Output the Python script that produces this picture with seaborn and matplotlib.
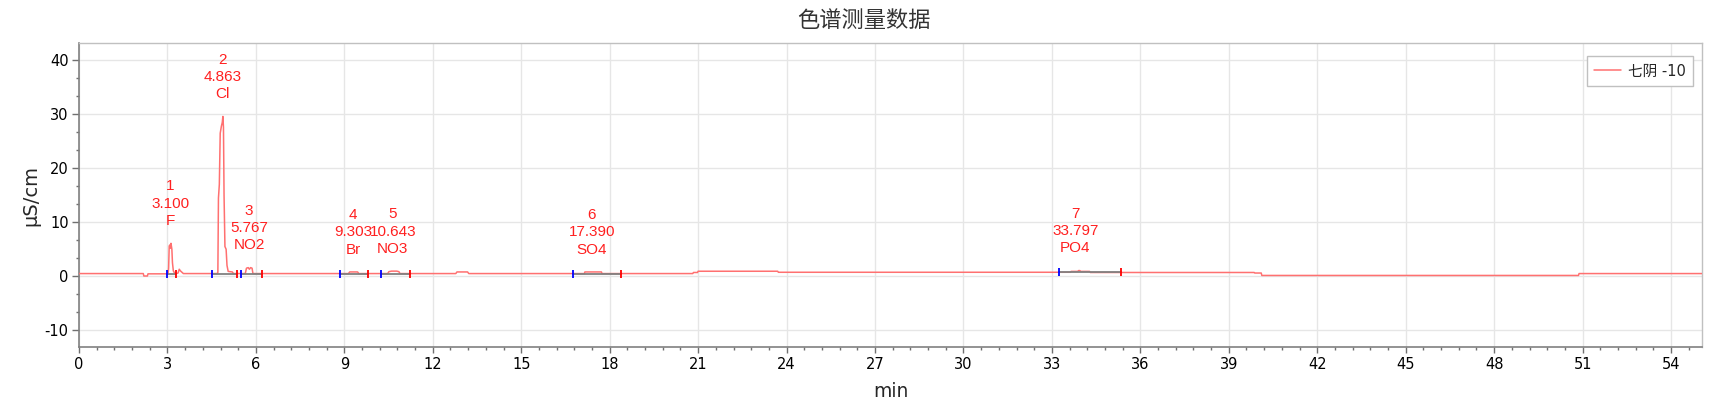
import numpy as np
import pandas as pd
import matplotlib
matplotlib.use("Agg")
import matplotlib.pyplot as plt
from matplotlib.ticker import MultipleLocator, AutoMinorLocator
import seaborn as sns

# ---------------- Chromatogram trace ----------------
time_min = [
    0.00, 2.18, 2.20, 2.32, 2.34,
    3.02, 3.04, 3.06, 3.08, 3.10, 3.12, 3.15, 3.17, 3.20, 3.24, 3.30,
    3.36, 3.40, 3.44, 3.48, 3.54,
    4.68, 4.71, 4.73, 4.76, 4.79, 4.83, 4.86, 4.88, 4.90, 4.92, 4.95,
    4.99, 5.02, 5.06, 5.20, 5.24,
    5.64, 5.68, 5.74, 5.78, 5.82, 5.87, 5.90,
    9.14, 9.18, 9.45, 9.49,
    10.47, 10.51, 10.60, 10.78, 10.85, 10.89,
    12.78, 12.82, 13.18, 13.22,
    17.14, 17.16, 17.72, 17.74,
    20.82, 20.84, 20.98, 21.00, 23.70, 23.72,
    33.63, 33.65, 33.88, 33.90, 33.95, 33.97, 34.28, 34.30,
    39.86, 39.88, 40.10, 40.12,
    50.86, 50.88, 55.05,
]
signal_us = [
    0.50, 0.50, 0.05, 0.05, 0.45,
    0.45, 1.50, 5.60, 5.80, 5.20, 6.10, 5.00, 2.50, 1.00, 0.60, 0.50,
    0.60, 1.30, 1.00, 0.80, 0.50,
    0.50, 0.70, 14.5, 17.0, 26.5, 27.8, 28.5, 29.6, 27.6, 15.0, 5.50,
    5.00, 2.00, 0.90, 0.80, 0.50,
    0.50, 1.50, 1.60, 1.30, 1.60, 1.50, 0.50,
    0.50, 0.80, 0.80, 0.50,
    0.50, 0.85, 0.95, 0.95, 0.85, 0.50,
    0.50, 0.80, 0.80, 0.50,
    0.50, 0.80, 0.80, 0.50,
    0.50, 0.70, 0.70, 0.93, 0.93, 0.74,
    0.74, 0.90, 0.90, 1.05, 1.05, 0.90, 0.90, 0.70,
    0.70, 0.60, 0.60, 0.15,
    0.15, 0.50, 0.50,
]

# ---------------- Peak table ----------------
peak_no = [1, 2, 3, 4, 5, 6, 7]
peak_rt = [3.100, 4.863, 5.767, 9.303, 10.643, 17.390, 33.797]
peak_name = ["F", "Cl", "NO2", "Br", "NO3", "SO4", "PO4"]
peak_start = [2.99, 4.51, 5.50, 8.86, 10.25, 16.76, 33.25]
peak_end = [3.29, 5.36, 6.22, 9.81, 11.23, 18.39, 35.36]
peak_base = [0.50, 0.50, 0.50, 0.50, 0.50, 0.50, 0.74]

trace = pd.DataFrame({"min": time_min, "signal": signal_us})

# ---------------- Plot ----------------
sns.set_theme(style="white")
plt.rcParams["font.family"] = ["DejaVu Sans", "Noto Sans CJK SC"]
plt.rcParams["axes.unicode_minus"] = False

fig = plt.figure(figsize=(17.28, 4.19), dpi=100)
ax = fig.add_axes([79 / 1728, 1 - 347 / 419, (1702 - 79) / 1728, (347 - 43) / 419])

line_color = "#ff7070"
sns.lineplot(data=trace, x="min", y="signal", ax=ax, color=line_color,
             lw=1.1, sort=False, estimator=None, label="七阴 -10", zorder=3)

# integration baselines + start/end markers
for s, e, b in zip(peak_start, peak_end, peak_base):
    ax.plot([s, e], [b, b], color="#808080", lw=1.3, zorder=4)
    ax.plot([s], [b], marker="|", color="#0000ff", ms=6, mew=1.3, zorder=5)
    ax.plot([e], [b], marker="|", color="#ff0000", ms=6, mew=1.3, zorder=5)

# peak labels
for n, rt, name, s, e in zip(peak_no, peak_rt, peak_name, peak_start, peak_end):
    top = trace.loc[(trace["min"] >= s) & (trace["min"] <= e), "signal"].max()
    ax.annotate(f"{n}\n{rt:.3f}\n{name}", xy=(rt, top), xytext=(0, 11),
                textcoords="offset points", ha="center", va="bottom",
                color="#ff2020", fontsize=11, linespacing=1.3,
                family=["Liberation Sans", "DejaVu Sans"])

ax.set_xlim(0, 55.05)
ax.set_ylim(-13.1, 43.2)
ax.xaxis.set_major_locator(MultipleLocator(3))
ax.xaxis.set_minor_locator(AutoMinorLocator(5))
ax.yaxis.set_major_locator(MultipleLocator(10))
ax.yaxis.set_minor_locator(AutoMinorLocator(3))

ax.grid(True, which="major", color="#e6e6e6", lw=1)
ax.set_axisbelow(True)
ax.tick_params(axis="both", which="major", direction="out", length=4,
               width=1, color="#707070", labelsize=10.5, labelcolor="black",
               bottom=True, left=True)
ax.tick_params(axis="both", which="minor", direction="out", length=2.2,
               width=1, color="#707070", bottom=True, left=True)
ax.tick_params(axis="x", which="major", pad=3.5)
ax.tick_params(axis="y", which="major", pad=2.5, length=5)

for side in ["left", "bottom"]:
    ax.spines[side].set_color("#808080")
    ax.spines[side].set_linewidth(1.2)
for side in ["top", "right"]:
    ax.spines[side].set_color("#c0c0c0")
    ax.spines[side].set_linewidth(1.0)

ax.set_xlabel("min", fontsize=13.5, labelpad=7)
ax.set_ylabel("μS/cm", fontsize=14, labelpad=3)

fig.suptitle("色谱测量数据", x=0.5, y=1 - 20 / 419, va="center",
             fontsize=16, color="#333333")

leg = ax.legend(loc="upper right", bbox_to_anchor=(1693 / 1728, 1 - 56 / 419),
                bbox_transform=fig.transFigure, borderaxespad=0,
                frameon=True, fancybox=False, edgecolor="#c0c0c0",
                framealpha=1, fontsize=10.5, handlelength=1.8,
                handletextpad=0.5, borderpad=0.5)
leg.get_frame().set_linewidth(1.0)

fig.savefig("out.png", dpi=100)
